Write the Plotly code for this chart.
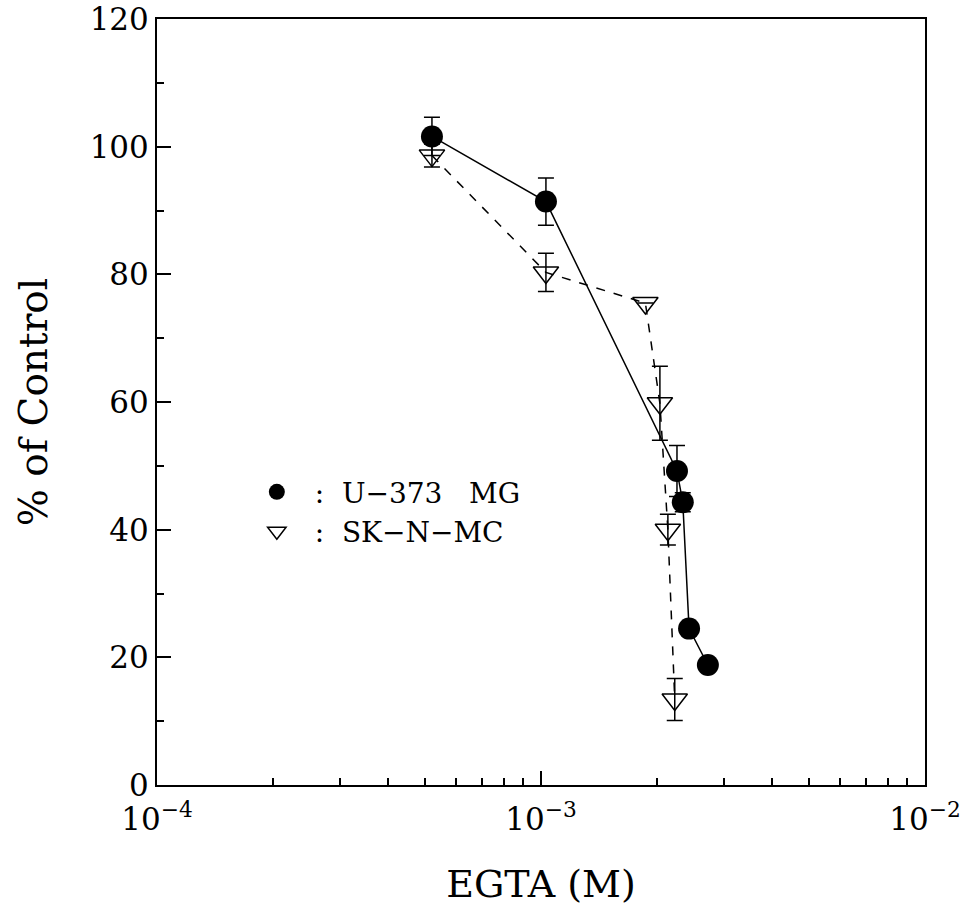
import plotly.graph_objects as go

# U-373 MG (filled circles, solid line)
u_x = [5.2e-4, 1.03e-3, 2.26e-3, 2.34e-3, 2.43e-3, 2.72e-3]
u_y = [101.6, 91.4, 49.2, 44.3, 24.5, 18.8]
u_err = [3.0, 3.7, 4.0, 1.5, 0.0, 0.0]

# SK-N-MC (open down triangles, dashed line)
s_x = [5.2e-4, 1.03e-3, 1.87e-3, 2.04e-3, 2.14e-3, 2.23e-3]
s_y = [98.6, 80.3, 75.5, 59.8, 40.0, 13.4]
s_err = [1.8, 3.0, 0.0, 5.8, 2.4, 3.3]

x_major = [1e-4, 1e-3, 1e-2]
x_major_text = ["10<sup>−4</sup>", "10<sup>−3</sup>", "10<sup>−2</sup>"]
x_minor = [m * 10 ** e for e in (-4, -3) for m in range(2, 10)]
y_major = [0, 20, 40, 60, 80, 100, 120]

FONT = "DejaVu Serif"
NB = "\u00a0"

fig = go.Figure()
fig.add_trace(go.Scatter(
    x=u_x, y=u_y, mode="lines+markers", showlegend=False,
    line=dict(color="black", width=1.5),
    marker=dict(symbol="circle", size=22, color="black"),
    error_y=dict(type="data", array=u_err, color="black", thickness=1.5, width=8),
))
fig.add_trace(go.Scatter(
    x=s_x, y=s_y, mode="lines+markers", showlegend=False,
    line=dict(color="black", width=1.5, dash="dash"),
    marker=dict(symbol="triangle-down-open", size=22, color="black", line=dict(width=1.5)),
    error_y=dict(type="data", array=s_err, color="black", thickness=1.5, width=8),
))
# legend entries
fig.add_trace(go.Scatter(
    x=[None], y=[None], mode="markers",
    name=NB * 2 + ":" + NB * 2 + "U−373" + NB * 3 + "MG",
    marker=dict(symbol="circle", size=22, color="black"),
))
fig.add_trace(go.Scatter(
    x=[None], y=[None], mode="markers",
    name=NB * 2 + ":" + NB * 2 + "SK−N−MC",
    marker=dict(symbol="triangle-down-open", size=18, color="black", line=dict(width=1.5)),
))

fig.update_layout(
    width=967, height=917,
    margin=dict(l=157, r=42, t=19, b=132),
    paper_bgcolor="white", plot_bgcolor="white",
    font=dict(family=FONT, size=30, color="black"),
    legend=dict(x=0.13, y=0.415, xanchor="left", yanchor="top",
                bgcolor="rgba(0,0,0,0)", font=dict(size=28, family=FONT),
                itemsizing="trace", tracegroupgap=0),
)
fig.update_xaxes(
    type="log", range=[-4, -2], automargin=False,
    tickmode="array", tickvals=x_major, ticktext=x_major_text,
    ticks="inside", ticklen=14, tickwidth=1.5, tickcolor="black",
    ticklabelstandoff=6, ticklabeloverflow="allow",
    minor=dict(tickmode="array", tickvals=x_minor, ticks="inside", ticklen=7,
               tickwidth=1.5, tickcolor="black", showgrid=False),
    showline=True, linecolor="black", linewidth=2, mirror=True,
    showgrid=False, zeroline=False,
    title=dict(text="EGTA (M)", font=dict(size=38, family=FONT), standoff=34),
    tickfont=dict(size=31, family=FONT),
)
fig.update_yaxes(
    range=[0, 120], automargin=False,
    tickmode="array", tickvals=y_major, ticklabeloverflow="allow",
    ticks="inside", ticklen=14, tickwidth=1.5, tickcolor="black",
    minor=dict(dtick=10, ticks="inside", ticklen=7, tickwidth=1.5,
               tickcolor="black", showgrid=False),
    showline=True, linecolor="black", linewidth=2, mirror=True,
    showgrid=False, zeroline=False,
    title=dict(text="% of Control", font=dict(size=39, family=FONT), standoff=30),
    tickfont=dict(size=31, family=FONT),
)

fig.write_html("out.html", config={"displayModeBar": False},
               post_script="document.body.style.margin='0px';")
